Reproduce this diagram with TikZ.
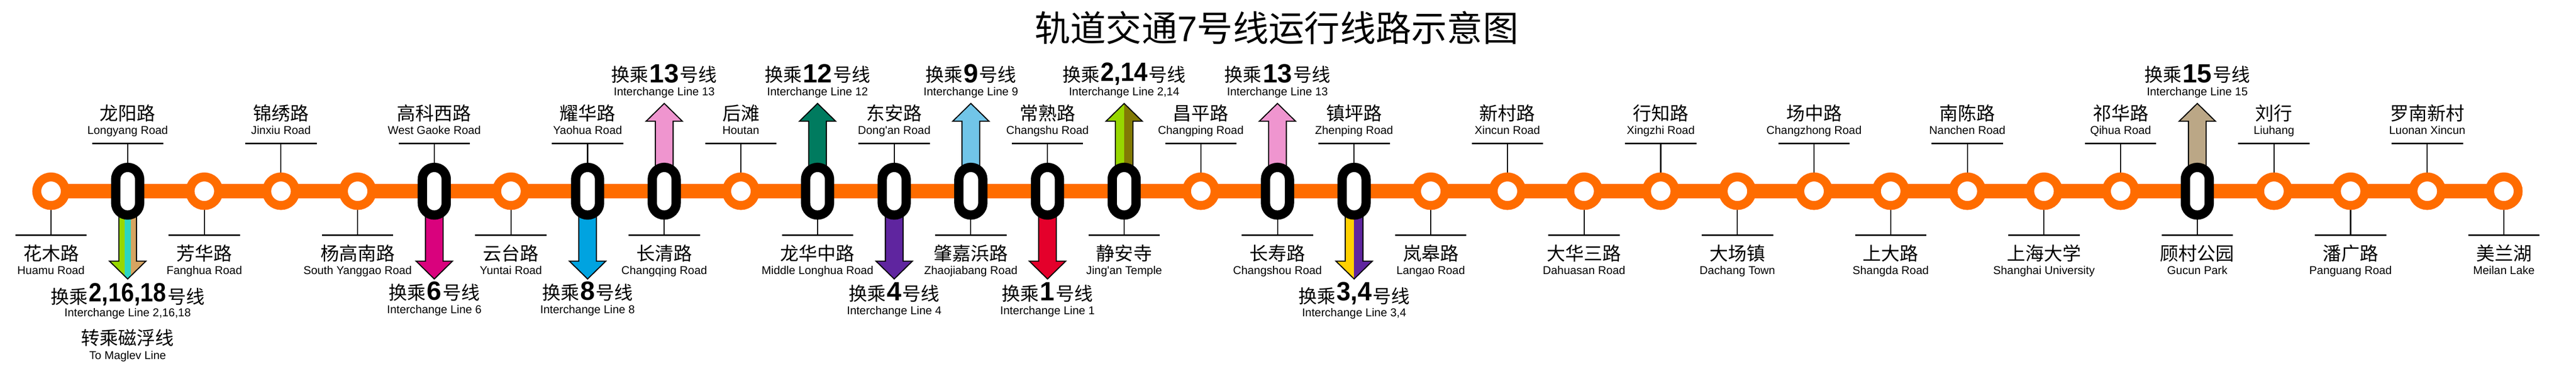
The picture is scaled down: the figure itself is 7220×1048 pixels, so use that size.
\documentclass[tikz,border=0pt]{standalone}
\usepackage{fontspec}
\usepackage{graphicx}
\setmainfont{Liberation Sans}
\newfontfamily\cjk{Noto Sans CJK SC}
\pgfdeclarelayer{bg}
\pgfsetlayers{bg,main}
\definecolor{lineorange}{HTML}{FF6C00}
\definecolor{lnone}{HTML}{E4002B}
\definecolor{lntwo}{HTML}{97D700}
\definecolor{lnthree}{HTML}{FFD100}
\definecolor{lnfour}{HTML}{5F259F}
\definecolor{lnsix}{HTML}{D9027D}
\definecolor{lneight}{HTML}{00A3E0}
\definecolor{lnnine}{HTML}{71C5E8}
\definecolor{lntwelve}{HTML}{007B5F}
\definecolor{lnthirteen}{HTML}{EF95CF}
\definecolor{lnfourteen}{HTML}{827A04}
\definecolor{lnfifteen}{HTML}{BBA786}
\definecolor{lnsixteen}{HTML}{2CD5C4}
\definecolor{lneighteen}{HTML}{D6A461}
\newcommand\cnf{\cjk\fontsize{26}{30}\selectfont}
\newcommand\enf{\fontsize{16}{19}\selectfont}
\newcommand\numf{\bfseries\fontsize{37}{42}\selectfont}
% #1 number, #2 raise, #3 horizontal squeeze
\newcommand\xferrow[3]{{\cnf 换乘}\hspace{1.5pt}\raisebox{#2}{\scalebox{#3}[1]{\numf #1}}\hspace{1.5pt}{\cnf 号线}}
\newcommand\arrowpath{(-24.8,0) -- (-24.8,196) -- (-51,196) -- (0,246) -- (51,196) -- (24.8,196) -- (24.8,0) -- cycle}
% #1 station node, #2 direction (1 down, -1 up), #3 fills
\newcommand\linearrow[3]{%
  \begin{scope}[shift={(#1)},yscale=#2]
    \begin{scope}
      \clip \arrowpath;
      #3
    \end{scope}
    \draw[arrowedge] \arrowpath;
  \end{scope}}
\newcommand\stripe[3]{\fill[#1] (#2,-5) rectangle (#3,255);}
\tikzset{
  ringstn/.style={circle,draw=lineorange,fill=white,line width=12.5pt,minimum size=40pt,inner sep=0pt,outer sep=0pt},
  xferstn/.style={rectangle,rounded corners=16.7pt,draw=black,fill=white,line width=13pt,minimum width=33.5pt,minimum height=66.8pt,inner sep=0pt,outer sep=0pt},
  track/.style={draw=lineorange,line width=20pt},
  leader/.style={draw=black,line width=1.5pt},
  rulebar/.style={rectangle,fill=black,minimum width=100pt,minimum height=1.8pt,inner sep=0pt,outer sep=0pt},
  txt/.style={anchor=base,inner sep=0pt,outer sep=0pt,align=center},
  arrowedge/.style={draw=black,line width=1.5pt,line join=miter,miter limit=10},
}
\begin{document}
\begin{tikzpicture}[x=0.5pt,y=-0.5pt]
\useasboundingbox (0,0) rectangle (7220,1048);
\begin{pgfonlayer}{bg}
  \fill[white] (0,0) rectangle (7220,1048);
\end{pgfonlayer}
\node[txt] (title) at (3578,116) {\cjk\fontsize{50}{56}\selectfont 轨道交通\fontspec{Liberation Sans}7\cjk 号线运行线路示意图};
\foreach \i/\kind/\cn/\en in {
  0/ringstn/花木路/Huamu Road,
  1/xferstn/龙阳路/Longyang Road,
  2/ringstn/芳华路/Fanghua Road,
  3/ringstn/锦绣路/Jinxiu Road,
  4/ringstn/杨高南路/South Yanggao Road,
  5/xferstn/高科西路/West Gaoke Road,
  6/ringstn/云台路/Yuntai Road,
  7/xferstn/耀华路/Yaohua Road,
  8/xferstn/长清路/Changqing Road,
  9/ringstn/后滩/Houtan,
  10/xferstn/龙华中路/Middle Longhua Road,
  11/xferstn/东安路/Dong\textquotesingle an Road,
  12/xferstn/肇嘉浜路/Zhaojiabang Road,
  13/xferstn/常熟路/Changshu Road,
  14/xferstn/静安寺/Jing\textquotesingle an Temple,
  15/ringstn/昌平路/Changping Road,
  16/xferstn/长寿路/Changshou Road,
  17/xferstn/镇坪路/Zhenping Road,
  18/ringstn/岚皋路/Langao Road,
  19/ringstn/新村路/Xincun Road,
  20/ringstn/大华三路/Dahuasan Road,
  21/ringstn/行知路/Xingzhi Road,
  22/ringstn/大场镇/Dachang Town,
  23/ringstn/场中路/Changzhong Road,
  24/ringstn/上大路/Shangda Road,
  25/ringstn/南陈路/Nanchen Road,
  26/ringstn/上海大学/Shanghai University,
  27/ringstn/祁华路/Qihua Road,
  28/xferstn/顾村公园/Gucun Park,
  29/ringstn/刘行/Liuhang,
  30/ringstn/潘广路/Panguang Road,
  31/ringstn/罗南新村/Luonan Xincun,
  32/ringstn/美兰湖/Meilan Lake}{
  \pgfmathsetmacro\xx{143+214.84*\i}
  \pgfmathtruncatemacro\odd{mod(\i,2)}
  \ifnum\odd=1
    \def\ry{402.4}\def\cy{337}\def\ey{376}
  \else
    \def\ry{659}\def\cy{730}\def\ey{769}
  \fi
  \node[\kind] (s\i) at (\xx,536) {};
  \node[rulebar] (r\i) at (\xx,\ry) {};
  \node[txt] (c\i) at (\xx,\cy) {\cnf \cn};
  \node[txt] (e\i) at (\xx,\ey) {\enf \en};
  \begin{pgfonlayer}{bg}
    \draw[leader] (s\i) -- (r\i);
  \end{pgfonlayer}
}
\begin{pgfonlayer}{bg}
  \foreach \a [remember=\a as \p (initially 0)] in {1,...,32}
    \draw[track] (s\p) -- (s\a);
  \linearrow{s1}{1}{\stripe{lntwo}{-55}{-8.3}\stripe{lnsixteen}{-8.3}{8.3}\stripe{lneighteen}{8.3}{55}}
  \linearrow{s5}{1}{\stripe{lnsix}{-55}{55}}
  \linearrow{s7}{1}{\stripe{lneight}{-55}{55}}
  \linearrow{s8}{-1}{\stripe{lnthirteen}{-55}{55}}
  \linearrow{s10}{-1}{\stripe{lntwelve}{-55}{55}}
  \linearrow{s11}{1}{\stripe{lnfour}{-55}{55}}
  \linearrow{s12}{-1}{\stripe{lnnine}{-55}{55}}
  \linearrow{s13}{1}{\stripe{lnone}{-55}{55}}
  \linearrow{s14}{-1}{\stripe{lntwo}{-55}{0}\stripe{lnfourteen}{0}{55}}
  \linearrow{s16}{-1}{\stripe{lnthirteen}{-55}{55}}
  \linearrow{s17}{1}{\stripe{lnthree}{-55}{0}\stripe{lnfour}{0}{55}}
  \linearrow{s28}{-1}{\stripe{lnfifteen}{-55}{55}}
\end{pgfonlayer}
% interchange labels
\node[txt] (x1) at (s1|-0,851) {\xferrow{2,16,18}{2.5pt}{0.88}};
\node[txt] (y1) at (s1|-0,887) {\enf Interchange Line 2,16,18};
\node[txt] (m1) at (s1|-0,967) {\cnf 转乘磁浮线};
\node[txt] (m2) at (s1|-0,1007) {\enf To Maglev Line};
\node[txt] (x5) at (s5|-0,840) {\xferrow{6}{-0.5pt}{1}};
\node[txt] (y5) at (s5|-0,878) {\enf Interchange Line 6};
\node[txt] (x7) at (s7|-0,840) {\xferrow{8}{-0.5pt}{1}};
\node[txt] (y7) at (s7|-0,878) {\enf Interchange Line 8};
\node[txt] (x8) at (s8|-0,229) {\xferrow{13}{-1.5pt}{1}};
\node[txt] (y8) at (s8|-0,268) {\enf Interchange Line 13};
\node[txt] (x10) at (s10|-0,229) {\xferrow{12}{-1.5pt}{1}};
\node[txt] (y10) at (s10|-0,268) {\enf Interchange Line 12};
\node[txt] (x11) at (s11|-0,842) {\xferrow{4}{0pt}{1}};
\node[txt] (y11) at (s11|-0,881) {\enf Interchange Line 4};
\node[txt] (x12) at (s12|-0,229) {\xferrow{9}{-1.5pt}{1}};
\node[txt] (y12) at (s12|-0,268) {\enf Interchange Line 9};
\node[txt] (x13) at (s13|-0,842) {\xferrow{1}{0pt}{1}};
\node[txt] (y13) at (s13|-0,881) {\enf Interchange Line 1};
\node[txt] (x14) at (s14|-0,229) {\xferrow{2,14}{0.8pt}{0.92}};
\node[txt] (y14) at (s14|-0,268) {\enf Interchange Line 2,14};
\node[txt] (x16) at (s16|-0,229) {\xferrow{13}{-1.5pt}{1}};
\node[txt] (y16) at (s16|-0,268) {\enf Interchange Line 13};
\node[txt] (x17) at (s17|-0,850) {\xferrow{3,4}{4pt}{0.96}};
\node[txt] (y17) at (s17|-0,888) {\enf Interchange Line 3,4};
\node[txt] (x28) at (s28|-0,229) {\xferrow{15}{-1.5pt}{1}};
\node[txt] (y28) at (s28|-0,268) {\enf Interchange Line 15};
\end{tikzpicture}
\end{document}
